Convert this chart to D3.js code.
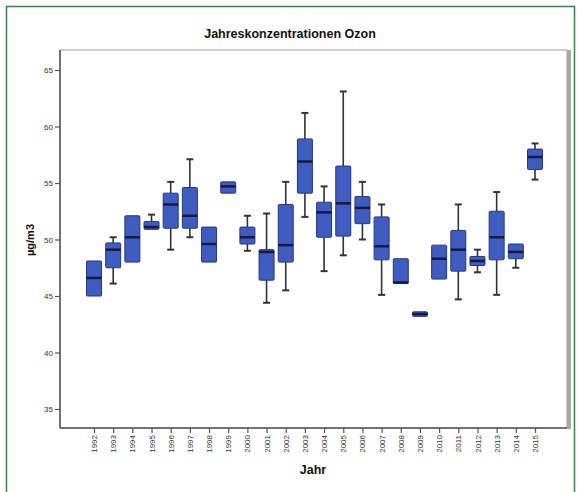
<!DOCTYPE html>
<html><head><meta charset="utf-8">
<script src="https://cdn.jsdelivr.net/npm/d3@7"></script>
<style>body{margin:0;background:#fff}svg{display:block;font-family:"Liberation Sans",Arial,sans-serif}</style>
</head><body>
<svg id="c" width="577" height="492"></svg>
<script>
const years = ["1992","1993","1994","1995","1996","1997","1998","1999","2000","2001","2002","2003","2004","2005","2006","2007","2008","2009","2010","2011","2012","2013","2014","2015"];
const whiskerLow  = [45.0,46.1,48.0,50.9,49.1,50.2,48.0,54.1,49.0,44.4,45.5,52.0,47.2,48.6,50.0,45.1,46.1,43.2,46.5,44.7,47.1,45.1,47.5,55.3];
const q1          = [45.0,47.5,48.0,50.9,51.0,51.0,48.0,54.1,49.6,46.4,48.0,54.1,50.2,50.3,51.4,48.2,46.1,43.2,46.5,47.2,47.7,48.2,48.3,56.2];
const median      = [46.6,49.1,50.2,51.1,53.1,52.1,49.6,54.7,50.2,48.9,49.5,56.9,52.4,53.2,52.8,49.4,46.2,43.4,48.3,49.1,48.1,50.2,48.9,57.3];
const q3          = [48.1,49.7,52.1,51.6,54.1,54.6,51.1,55.1,51.1,49.1,53.1,58.9,53.3,56.5,53.8,52.0,48.3,43.6,49.5,50.8,48.5,52.5,49.6,58.0];
const whiskerHigh = [48.1,50.2,52.1,52.2,55.1,57.1,51.1,55.1,52.1,52.3,55.1,61.2,54.7,63.1,55.1,53.1,48.3,43.6,49.5,53.1,49.1,54.2,49.6,58.5];
const yTicks = [35,40,45,50,55,60,65];

const svg = d3.select("#c");
svg.append("rect").attr("x",6.5).attr("y",6.5).attr("width",568).attr("height",500)
  .attr("fill","none").attr("stroke","#3d7d52").attr("stroke-width",1.5);

const L=60, R=567, T=50, B=428;
svg.append("rect").attr("x",L).attr("y",T).attr("width",R-L).attr("height",B-T)
  .attr("fill","#fff").attr("stroke","#9a9a9a").attr("stroke-width",1);
svg.append("rect").attr("x",R).attr("y",T).attr("width",4).attr("height",B-T+1).attr("fill","#a8a8a8");
svg.append("line").attr("x1",L).attr("x2",L).attr("y1",T).attr("y2",B).attr("stroke","#555").attr("stroke-width",1.5);
svg.append("line").attr("x1",L).attr("x2",R).attr("y1",B).attr("y2",B).attr("stroke","#555").attr("stroke-width",1.5);

const x = d3.scalePoint().domain(years).range([94,535]);
const y = d3.scaleLinear().domain([35,65]).range([409,70]);

const yAxis = svg.append("g").attr("transform",`translate(${L},0)`)
  .call(d3.axisLeft(y).tickValues(yTicks).tickSize(5).tickPadding(2));
yAxis.select(".domain").remove();
yAxis.selectAll("line").attr("stroke","#555").attr("stroke-width",1.2);
yAxis.selectAll("text").attr("font-size",8).attr("fill","#333");

const xAxis = svg.append("g").attr("transform",`translate(0,${B})`)
  .call(d3.axisBottom(x).tickSize(5).tickPadding(2));
xAxis.select(".domain").remove();
xAxis.selectAll("line").attr("stroke","#555").attr("stroke-width",1.2);
xAxis.selectAll("text").attr("font-size",8).attr("fill","#333")
  .attr("transform","rotate(-90)").attr("text-anchor","end")
  .attr("x",-7).attr("y",0).attr("dy","0.32em");

const data = years.map((yr,i)=>({yr,lo:whiskerLow[i],q1:q1[i],med:median[i],q3:q3[i],hi:whiskerHigh[i]}));
const bw = 15, cw = 7;
const g = svg.append("g");
data.forEach(d=>{
  const cx = x(d.yr);
  if (d.hi > d.q3) {
    g.append("line").attr("x1",cx).attr("x2",cx).attr("y1",y(d.hi)).attr("y2",y(d.q3)).attr("stroke","#333").attr("stroke-width",1.6);
    g.append("line").attr("x1",cx-cw/2).attr("x2",cx+cw/2).attr("y1",y(d.hi)).attr("y2",y(d.hi)).attr("stroke","#333").attr("stroke-width",2);
  }
  if (d.lo < d.q1) {
    g.append("line").attr("x1",cx).attr("x2",cx).attr("y1",y(d.q1)).attr("y2",y(d.lo)).attr("stroke","#333").attr("stroke-width",1.6);
    g.append("line").attr("x1",cx-cw/2).attr("x2",cx+cw/2).attr("y1",y(d.lo)).attr("y2",y(d.lo)).attr("stroke","#333").attr("stroke-width",2);
  }
  g.append("rect").attr("x",cx-bw/2).attr("y",y(d.q3)).attr("width",bw).attr("height",Math.max(2,y(d.q1)-y(d.q3)))
    .attr("fill","#3f5cc0").attr("stroke","#27367a").attr("stroke-width",1).attr("rx",1);
  g.append("line").attr("x1",cx-bw/2).attr("x2",cx+bw/2).attr("y1",y(d.med)).attr("y2",y(d.med))
    .attr("stroke","#151a40").attr("stroke-width",2.5);
});

svg.append("text").attr("x",290).attr("y",38).attr("text-anchor","middle")
  .attr("font-size",12.5).attr("font-weight","bold").attr("fill","#111").text("Jahreskonzentrationen Ozon");
svg.append("text").attr("x",313).attr("y",474).attr("text-anchor","middle")
  .attr("font-size",12.5).attr("font-weight","bold").attr("fill","#111").text("Jahr");
svg.append("text").attr("transform","translate(34,240) rotate(-90)").attr("text-anchor","middle")
  .attr("font-size",11).attr("font-weight","bold").attr("fill","#111").text("µg/m3");
</script>
</body></html>
